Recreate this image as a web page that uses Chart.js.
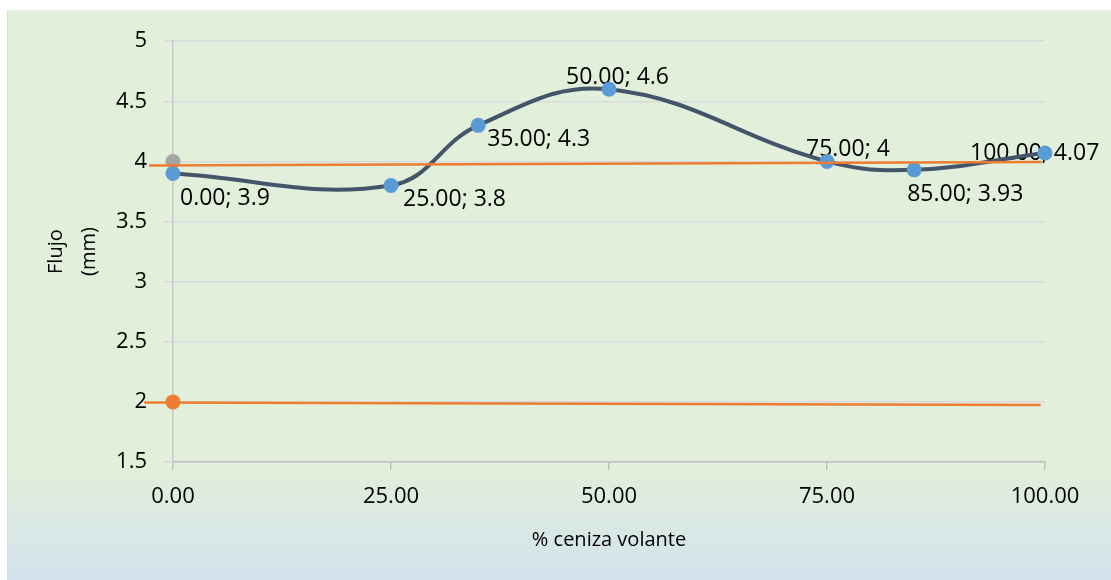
<!DOCTYPE html>
<html>
<head>
<meta charset="utf-8">
<script src="https://cdn.jsdelivr.net/npm/chart.js@4.4.0/dist/chart.umd.min.js"></script>
<style>
  html, body { margin: 0; padding: 0; background: #ffffff; }
  #wrap { position: absolute; left: 7px; top: 10px; width: 1104px; height: 570px;
          border-left: 1px solid #d3e1ef; border-top: 1px solid #eef3f0; box-sizing: border-box; }
  canvas { display: block; }
</style>
</head>
<body>
<div id="wrap"><canvas id="myChart" width="1103" height="569"></canvas></div>
<script>
// datos
var cenizaX = [0, 25, 35, 50, 75, 85, 100];
var flujoY = [3.9, 3.8, 4.3, 4.6, 4, 3.93, 4.07];
var lineaSupX = [-2.75, 99.6];
var lineaSupY = [3.966, 3.995];
var lineaInfX = [-3.3, 99.5];
var lineaInfY = [1.995, 1.975];
var puntoGrisX = [0], puntoGrisY = [4];
var puntoNaranjaX = [0], puntoNaranjaY = [2];
var xTicks = [0, 25, 50, 75, 100];
var yTicks = [1.5, 2, 2.5, 3, 3.5, 4, 4.5, 5];

function toPoints(xs, ys) {
    var pts = [];
    for (var i = 0; i < xs.length; i++) pts.push({x: xs[i], y: ys[i]});
    return pts;
}

// desplazamiento de cada etiqueta respecto a su punto
var labelOffsets = [[7, 25], [12, 14], [9, 14], [-43, -12], [-21, -12], [-7, 25], [-75, 0]];

var fondo = {
    id: 'fondo',
    beforeDraw: function (chart) {
        var c = chart.ctx;
        var g = c.createLinearGradient(0, 0, 0, chart.height);
        g.addColorStop(0, '#e2efda');
        g.addColorStop(0.8, '#e2efda');
        g.addColorStop(1, '#d3e2ee');
        c.save();
        c.fillStyle = g;
        c.fillRect(0, 0, chart.width, chart.height);
        c.restore();
    }
};

var etiquetas = {
    id: 'etiquetas',
    beforeDatasetsDraw: function (chart) {
        var c = chart.ctx;
        var meta = chart.getDatasetMeta(1);
        c.save();
        c.font = '23px "Open Sans"';
        c.fillStyle = '#000000';
        c.textAlign = 'left';
        c.textBaseline = 'middle';
        meta.data.forEach(function (pt, i) {
            var txt = cenizaX[i].toFixed(2) + '; ' + flujoY[i];
            c.fillText(txt, pt.x + labelOffsets[i][0], pt.y + labelOffsets[i][1]);
        });
        c.restore();
    }
};

var ctx = document.getElementById('myChart').getContext('2d');
var myChart = new Chart(ctx, {
    type: 'scatter',
    data: {
        datasets: [
            {
                data: toPoints(puntoGrisX, puntoGrisY),
                pointRadius: 7.5, pointBackgroundColor: '#a5a5a5', pointBorderWidth: 0,
                showLine: false, clip: false, order: 3
            },
            {
                data: toPoints(cenizaX, flujoY),
                showLine: true, borderColor: '#44546a', borderWidth: 4, tension: 0.4,
                pointRadius: 7.5, pointBackgroundColor: '#5b9bd5', pointBorderWidth: 0,
                clip: false, order: 2
            },
            {
                data: toPoints(lineaSupX, lineaSupY),
                showLine: true, borderColor: '#ed7d31', borderWidth: 2.5,
                pointRadius: 0, clip: false, order: 1
            },
            {
                data: toPoints(lineaInfX, lineaInfY),
                showLine: true, borderColor: '#ed7d31', borderWidth: 2.5,
                pointRadius: 0, clip: false, order: 1
            },
            {
                data: toPoints(puntoNaranjaX, puntoNaranjaY),
                pointRadius: 7.5, pointBackgroundColor: '#ed7d31', pointBorderWidth: 0,
                showLine: false, clip: false, order: 0
            }
        ]
    },
    options: {
        responsive: false,
        animation: false,
        layout: { padding: { top: 29, right: 66, left: 0, bottom: 0 } },
        plugins: { legend: { display: false }, tooltip: { enabled: false } },
        scales: {
            x: {
                type: 'linear', min: 0, max: 100,
                afterBuildTicks: function (s) { s.ticks = xTicks.map(function (v) { return {value: v}; }); },
                afterFit: function (s) { s.height = 118; },
                grid: { drawOnChartArea: false, color: '#bfbfbf', tickLength: 8, lineWidth: 1.5 },
                border: { color: '#bfbfbf', width: 1.5 },
                ticks: {
                    padding: 14, color: '#000000', font: { family: 'Open Sans', size: 22 },
                    maxRotation: 0,
                    callback: function (v) { return Number(v).toFixed(2); }
                },
                title: {
                    display: true, text: '% ceniza volante', color: '#000000',
                    font: { family: 'Open Sans', size: 20 }, padding: { top: 0, bottom: 28 }
                }
            },
            y: {
                min: 1.5, max: 5,
                afterBuildTicks: function (s) { s.ticks = yTicks.map(function (v) { return {value: v}; }); },
                afterFit: function (s) { s.width = 165; },
                grid: { color: '#d9d9d9', tickLength: 9, lineWidth: 1.5 },
                border: { color: '#c8c8c8', width: 1.5 },
                ticks: {
                    padding: 17, color: '#000000', font: { family: 'Open Sans', size: 22 },
                    callback: function (v) { return String(v); }
                },
                title: {
                    display: true, text: ['Flujo', '(mm)'], color: '#000000',
                    font: { family: 'Open Sans', size: 20, lineHeight: 1.65 },
                    padding: { top: 32, bottom: 0 }
                }
            }
        }
    },
    plugins: [fondo, etiquetas]
});
</script>
</body>
</html>
